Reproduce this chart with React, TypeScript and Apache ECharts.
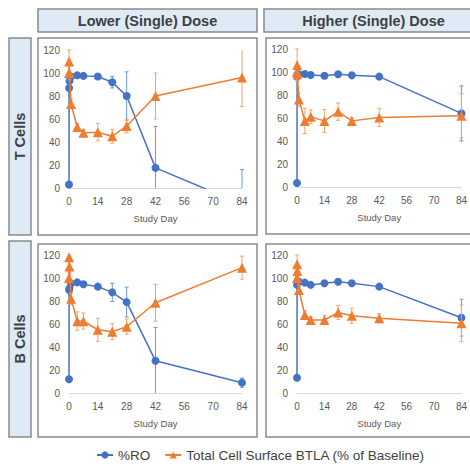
import React, { useEffect, useRef } from "react";
import * as echarts from "echarts";

// ---------- data ----------
const days = [0, 0.05, 0.2, 1, 4, 7, 14, 21, 28, 42, 84];
const colHeaders = ["Lower (Single) Dose", "Higher (Single) Dose"];
const rowHeaders = ["T Cells", "B Cells"];
const seriesNames = ["%RO", "Total Cell Surface BTLA (% of Baseline)"];
const xAxisName = "Study Day";

// T cells, lower dose
const tLowRO = [3, 87, 93, 97, 98, 97.5, 97, 92, 80, 17.5, -14];
const tLowROErr = [0, 0, 0, 0, 1, 1, 1, 5, 21, 36, 30];
const tLowBTLA = [100, 110, 100, 73, 53, 48, 48.5, 45, 54, 80, 96];
const tLowBTLAErr = [0, 10, 6, 4, 3, 3, 7.5, 6, 6, 20, 25];

// T cells, higher dose
const tHighRO = [3.5, 96, 98, 98, 98.3, 97.4, 96.8, 98, 97.1, 96, 64];
const tHighROErr = [0, 1, 1, 1, 1, 1, 1, 1, 1, 1, 24];
const tHighBTLA = [100, 106, 98, 76, 57.5, 61, 57.5, 65.5, 57.5, 60.5, 62];
const tHighBTLAErr = [0, 14, 5, 6, 11, 6, 10, 7.5, 3, 8, 19];

// B cells, lower dose
const bLowRO = [12, 89.5, 91, 95.3, 96.2, 94.5, 92.5, 87.5, 79, 28, 9];
const bLowROErr = [0, 2, 2, 2, 2, 2, 2, 8, 13, 29, 4];
const bLowBTLA = [100, 118, 110, 82, 62.5, 62.5, 55, 53.3, 57.7, 78.5, 109];
const bLowBTLAErr = [0, 0, 5, 5, 8, 7, 10, 7, 6.5, 16, 10];

// B cells, higher dose
const bHighRO = [13.3, 94, 97, 96.8, 96, 94, 95.4, 96.8, 95.4, 92.5, 65.5];
const bHighROErr = [0, 1, 1, 1, 1, 1, 1, 1, 1, 1, 16];
const bHighBTLA = [100, 112, 106, 89.6, 67.8, 63.5, 63.5, 70, 67.2, 65, 60.6];
const bHighBTLAErr = [0, 8, 4, 4, 4, 3, 4, 6, 6.5, 4, 16];

// ---------- styling ----------
const BLUE = "#4472C4";
const ORANGE = "#ED7D31";
const BLUE_ERR = "#6b9ad8";
const ORANGE_ERR = "#f3a46e";
const BORDER = "#8a8a8a";
const HEADER_FILL = "#deebf7";
const FONT = "'Liberation Sans', Arial, sans-serif";

const panels = [
  { ro: tLowRO, roErr: tLowROErr, btla: tLowBTLA, btlaErr: tLowBTLAErr },
  { ro: tHighRO, roErr: tHighROErr, btla: tHighBTLA, btlaErr: tHighBTLAErr },
  { ro: bLowRO, roErr: bLowROErr, btla: bLowBTLA, btlaErr: bLowBTLAErr },
  { ro: bHighRO, roErr: bHighROErr, btla: bHighBTLA, btlaErr: bHighBTLAErr },
];

const gridBoxes = [
  { left: 69, top: 50, width: 173, height: 138 },
  { left: 297, top: 49, width: 168, height: 138 },
  { left: 69, top: 255, width: 173, height: 138 },
  { left: 297, top: 255, width: 168, height: 138 },
];

function errorRender(color: string) {
  return (params: any, api: any) => {
    const x = api.value(0);
    const y = api.value(1);
    const e = api.value(2);
    if (!e) return null;
    const cs = params.coordSys;
    const top = api.coord([x, y + e]);
    const bot = api.coord([x, y - e]);
    const minY = cs.y;
    const maxY = cs.y + cs.height;
    const t = Math.max(minY, Math.min(maxY, top[1]));
    const b = Math.max(minY, Math.min(maxY, bot[1]));
    const cx = top[0];
    const style = { stroke: color, fill: null, lineWidth: 1 };
    const children: any[] = [
      { type: "line", shape: { x1: cx, y1: t, x2: cx, y2: b }, style },
    ];
    if (top[1] >= minY && top[1] <= maxY)
      children.push({ type: "line", shape: { x1: cx - 2, y1: top[1], x2: cx + 2, y2: top[1] }, style });
    if (bot[1] >= minY && bot[1] <= maxY)
      children.push({ type: "line", shape: { x1: cx - 2, y1: bot[1], x2: cx + 2, y2: bot[1] }, style });
    return { type: "group", children };
  };
}

export default function App() {
  const ref = useRef<HTMLDivElement>(null);
  useEffect(() => {
    if (!ref.current) return;
    const chart = echarts.init(ref.current, null, { renderer: "svg", width: 470, height: 466 });

    const grids = gridBoxes.map((g) => ({ ...g, containLabel: false }));
    const xAxes = gridBoxes.map((_, i) => ({
      type: "value",
      gridIndex: i,
      min: 0,
      max: 84,
      interval: 14,
      name: xAxisName,
      nameLocation: "middle",
      nameGap: 25,
      nameTextStyle: { color: "#595959", fontSize: 9.5, fontFamily: FONT },
      axisLine: { show: true, onZero: false, lineStyle: { color: "#d9d9d9", width: 1 } },
      axisTick: { show: false },
      splitLine: { show: false },
      axisLabel: { color: "#595959", fontSize: 10, fontFamily: FONT, margin: 8 },
    }));
    const yAxes = gridBoxes.map((_, i) => ({
      type: "value",
      gridIndex: i,
      min: 0,
      max: 120,
      interval: 20,
      axisLine: { show: false },
      axisTick: { show: false },
      splitLine: { show: false },
      axisLabel: { color: "#595959", fontSize: 10, fontFamily: FONT, margin: 9 },
    }));

    const series: any[] = [];
    panels.forEach((p, i) => {
      series.push({
        type: "custom",
        name: seriesNames[0] + " err",
        xAxisIndex: i,
        yAxisIndex: i,
        z: 1,
        clip: false,
        encode: { x: 0, y: 1 },
        itemStyle: { color: BLUE_ERR },
        data: days.map((d, k) => [d, p.ro[k], p.roErr[k]]),
        renderItem: errorRender(BLUE_ERR),
        silent: true,
      });
      series.push({
        type: "line",
        name: seriesNames[0],
        xAxisIndex: i,
        yAxisIndex: i,
        z: 2,
        clip: true,
        data: days.map((d, k) => [d, p.ro[k]]),
        symbol: "circle",
        symbolSize: 8,
        lineStyle: { color: BLUE, width: 1.5 },
        itemStyle: { color: BLUE, borderWidth: 0 },
      });
      series.push({
        type: "custom",
        name: seriesNames[1] + " err",
        xAxisIndex: i,
        yAxisIndex: i,
        z: 3,
        clip: false,
        encode: { x: 0, y: 1 },
        itemStyle: { color: ORANGE_ERR },
        data: days.map((d, k) => [d, p.btla[k], p.btlaErr[k]]),
        renderItem: errorRender(ORANGE_ERR),
        silent: true,
      });
      series.push({
        type: "line",
        name: seriesNames[1],
        xAxisIndex: i,
        yAxisIndex: i,
        z: 4,
        clip: true,
        data: days.map((d, k) => [d, p.btla[k]]),
        symbol: "triangle",
        symbolSize: 10,
        lineStyle: { color: ORANGE, width: 1.5 },
        itemStyle: { color: ORANGE, borderWidth: 0 },
      });
    });

    const headerText = {
      fill: "#404040",
      fontSize: 14.5,
      fontWeight: "bold",
      fontFamily: FONT,
      align: "center",
      verticalAlign: "middle",
    };
    const rectStyle = { fill: HEADER_FILL, stroke: BORDER, lineWidth: 1.5 };
    const panelStyle = { fill: "none", stroke: BORDER, lineWidth: 1.5 };

    const graphic: any[] = [
      { type: "rect", shape: { x: 38, y: 9, width: 219, height: 23 }, style: rectStyle },
      { type: "text", x: 147.5, y: 21, style: { ...headerText, text: colHeaders[0] } },
      { type: "rect", shape: { x: 264, y: 9, width: 219, height: 23 }, style: rectStyle },
      { type: "text", x: 373.5, y: 21, style: { ...headerText, text: colHeaders[1] } },
      { type: "rect", shape: { x: 9, y: 38, width: 22, height: 197 }, style: rectStyle },
      { type: "text", x: 20, y: 136.5, rotation: Math.PI / 2, style: { ...headerText, text: rowHeaders[0] } },
      { type: "rect", shape: { x: 9, y: 241, width: 22, height: 196 }, style: rectStyle },
      { type: "text", x: 20, y: 339, rotation: Math.PI / 2, style: { ...headerText, text: rowHeaders[1] } },
      { type: "rect", shape: { x: 38, y: 38, width: 219, height: 197 }, style: panelStyle },
      { type: "rect", shape: { x: 266, y: 38, width: 219, height: 196 }, style: panelStyle },
      { type: "rect", shape: { x: 38, y: 244, width: 219, height: 193 }, style: panelStyle },
      { type: "rect", shape: { x: 266, y: 244, width: 219, height: 193 }, style: panelStyle },
    ];

    chart.setOption({
      animation: false,
      backgroundColor: "#ffffff",
      grid: grids,
      xAxis: xAxes,
      yAxis: yAxes,
      legend: {
        data: seriesNames,
        left: 96,
        top: 447,
        padding: 0,
        itemWidth: 16,
        itemHeight: 9,
        itemGap: 14,
        textStyle: { color: "#404040", fontSize: 13.5, fontFamily: FONT, lineHeight: 16 },
      },
      graphic,
      series,
    });
    return () => chart.dispose();
  }, []);
  return (
    <div
      ref={ref}
      style={{ position: "fixed", left: 0, top: 0, width: 470, height: 466, background: "#fff" }}
    />
  );
}
